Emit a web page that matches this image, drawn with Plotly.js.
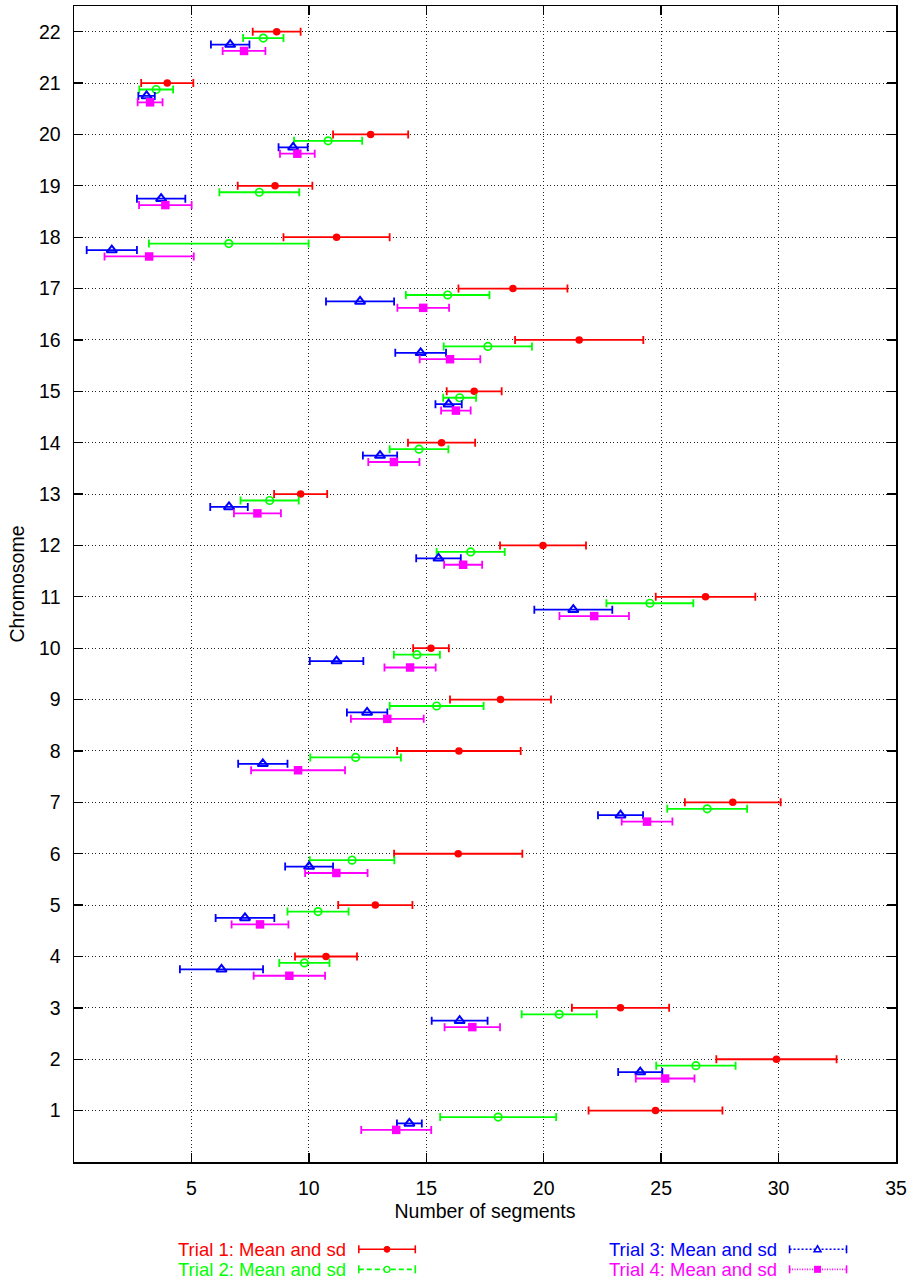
<!DOCTYPE html>
<html>
<head>
<meta charset="utf-8">
<script src="https://cdn.plot.ly/plotly-3.0.1.min.js"></script>
<style>
  html, body { margin: 0; padding: 0; background: #fff; }
  #chart { width: 914px; height: 1281px; }
</style>
</head>
<body>
<div id="chart"></div>
<script>
// ---- Data ----
const chromosomes = [1,2,3,4,5,6,7,8,9,10,11,12,13,14,15,16,17,18,19,20,21,22];

const trial1Mean = [24.76,29.91,23.27,10.73,12.83,16.36,28.05,16.39,18.16,15.20,26.89,19.97,9.65,15.65,17.04,21.51,18.69,11.18,8.56,12.63,3.97,8.63];
const trial1Sd   = [2.85,2.56,2.07,1.32,1.58,2.73,2.04,2.63,2.15,0.76,2.12,1.83,1.13,1.43,1.17,2.73,2.32,2.26,1.59,1.60,1.11,1.02];

const trial2Mean = [18.06,26.48,20.66,9.81,10.39,11.84,26.96,11.99,15.44,14.60,24.52,16.89,8.33,14.69,16.42,17.62,15.91,6.59,7.89,10.82,3.50,8.06];
const trial2Sd   = [2.47,1.69,1.60,1.07,1.30,1.80,1.70,1.93,2.00,0.98,1.85,1.45,1.24,1.25,0.70,1.88,1.78,3.40,1.70,1.45,0.72,0.86];

const trial3Mean = [14.28,24.11,16.42,6.28,7.28,10.01,23.27,8.04,12.48,11.18,21.26,15.52,6.60,13.03,15.95,14.76,12.18,1.61,3.71,9.33,3.09,6.65];
const trial3Sd   = [0.53,0.94,1.19,1.77,1.25,1.02,0.96,1.05,0.86,1.14,1.66,0.95,0.80,0.73,0.56,1.08,1.45,1.07,1.03,0.62,0.35,0.82];

const trial4Mean = [13.72,25.17,16.96,9.17,7.92,11.17,24.40,9.54,13.34,14.31,22.15,16.57,7.81,13.62,16.26,16.01,14.87,3.20,3.89,9.51,3.24,7.24];
const trial4Sd   = [1.49,1.25,1.18,1.52,1.21,1.33,1.08,2.00,1.55,1.09,1.48,0.81,1.00,1.09,0.63,1.29,1.10,1.90,1.12,0.74,0.53,0.91];

const trialNames = ["Trial 1: Mean and sd","Trial 2: Mean and sd","Trial 3: Mean and sd","Trial 4: Mean and sd"];
const xTicks = [5,10,15,20,25,30,35];

// ---- Styling ----
const FONT = '"Liberation Sans", Arial, Helvetica, sans-serif';
const FS = 19.5;
const LFS = 18.5;
const colors = ['#ff0000','#00ff00','#0000ff','#ff00ff'];
const symbols = ['circle','circle-open','triangle-up-open','square'];
const msizes = [7.5, 7.5, 9, 8.5];
const mline = [0, 1.7, 2, 0];
const rowShift = [0, 0.125, 0.25, 0.375];   // vertical stagger within each chromosome row

const means = [trial1Mean, trial2Mean, trial3Mean, trial4Mean];
const sds = [trial1Sd, trial2Sd, trial3Sd, trial4Sd];

const traces = means.map((m, i) => ({
  type: 'scatter',
  mode: 'markers',
  name: trialNames[i],
  x: m,
  y: chromosomes.map(c => c - rowShift[i]),
  error_x: { type: 'data', array: sds[i], visible: true, color: colors[i], thickness: 1.8, width: 4 },
  marker: { symbol: symbols[i], size: msizes[i], color: colors[i], line: { color: colors[i], width: mline[i] } },
  showlegend: false,
  hoverinfo: 'x+y'
}));

// ---- Plot geometry (pixels) for manual legend ----
const W = 914, H = 1281;
const M = { l: 73.5, r: 18, t: 6, b: 119.3 };
const PW = W - M.l - M.r, PH = H - M.t - M.b;
const px = v => (v - M.l) / PW;
const py = v => (H - M.b - v) / PH;

const shapes = [];
const annotations = [];
const legendPos = [
  { tx: 347, y: 1249, x0: 358.5, x1: 415, mx: 386.7 },
  { tx: 347, y: 1269, x0: 358.5, x1: 415, mx: 386.7 },
  { tx: 778, y: 1249, x0: 789.5, x1: 846.5, mx: 817.5 },
  { tx: 778, y: 1269, x0: 789.5, x1: 846.5, mx: 817.5 }
];
const legendDash = ['solid', '5px,3px', '2px,2px', '1px,1.5px'];
legendPos.forEach((p, i) => {
  annotations.push({
    xref: 'paper', yref: 'paper', x: px(p.tx), y: py(p.y),
    xanchor: 'right', yanchor: 'middle', showarrow: false, borderpad: 0,
    text: trialNames[i], font: { family: FONT, size: LFS, color: colors[i] }
  });
  const ln = { color: colors[i], width: 1.6, dash: legendDash[i] };
  shapes.push({ type: 'line', xref: 'paper', yref: 'paper', x0: px(p.x0), x1: px(p.x1), y0: py(p.y), y1: py(p.y), line: ln });
  [p.x0, p.x1].forEach(cx => shapes.push({ type: 'line', xref: 'paper', yref: 'paper', x0: px(cx), x1: px(cx), y0: py(p.y - 4), y1: py(p.y + 4), line: { color: colors[i], width: 1.6 } }));
  const r = 3;
  if (i === 0) {
    shapes.push({ type: 'circle', xref: 'paper', yref: 'paper', x0: px(p.mx - r), x1: px(p.mx + r), y0: py(p.y - r), y1: py(p.y + r), fillcolor: colors[i], line: { color: colors[i], width: 1 } });
  } else if (i === 1) {
    shapes.push({ type: 'circle', xref: 'paper', yref: 'paper', x0: px(p.mx - r), x1: px(p.mx + r), y0: py(p.y - r), y1: py(p.y + r), fillcolor: '#fff', line: { color: colors[i], width: 1.4 } });
  } else if (i === 2) {
    const path = `M ${px(p.mx - 3.5)} ${py(p.y + 2.5)} L ${px(p.mx + 3.5)} ${py(p.y + 2.5)} L ${px(p.mx)} ${py(p.y - 3.5)} Z`;
    shapes.push({ type: 'path', xref: 'paper', yref: 'paper', path: path, fillcolor: '#fff', line: { color: colors[i], width: 1.5 } });
  } else {
    shapes.push({ type: 'rect', xref: 'paper', yref: 'paper', x0: px(p.mx - 3.5), x1: px(p.mx + 3.5), y0: py(p.y - 3.5), y1: py(p.y + 3.5), fillcolor: colors[i], line: { color: colors[i], width: 0 } });
  }
});

const axisCommon = {
  showline: true, linecolor: '#000', linewidth: 1.5, mirror: 'allticks',
  ticks: 'inside', ticklen: 9, tickwidth: 1.3, tickcolor: '#000',
  showgrid: true, gridcolor: '#222', gridwidth: 1, griddash: '1px,2.5px',
  zeroline: false,
  tickfont: { family: FONT, size: FS, color: '#000' }
};

const layout = {
  width: W, height: H,
  margin: M,
  paper_bgcolor: '#fff', plot_bgcolor: '#fff',
  showlegend: false,
  font: { family: FONT, size: FS, color: '#000' },
  xaxis: Object.assign({}, axisCommon, {
    range: [0, 35], tickmode: 'array', tickvals: xTicks, ticktext: xTicks.map(String),
    ticklabelstandoff: 8,
    title: { text: 'Number of segments', font: { family: FONT, size: FS, color: '#000' }, standoff: 6 }
  }),
  yaxis: Object.assign({}, axisCommon, {
    range: [0, 22.5], tickmode: 'array', tickvals: chromosomes, ticktext: chromosomes.map(String),
    ticklabelstandoff: 8,
    title: { text: 'Chromosome', font: { family: FONT, size: FS, color: '#000' }, standoff: 9 }
  }),
  shapes: shapes,
  annotations: annotations
};

Plotly.newPlot('chart', traces, layout, { displayModeBar: false, staticPlot: true });
</script>
</body>
</html>
